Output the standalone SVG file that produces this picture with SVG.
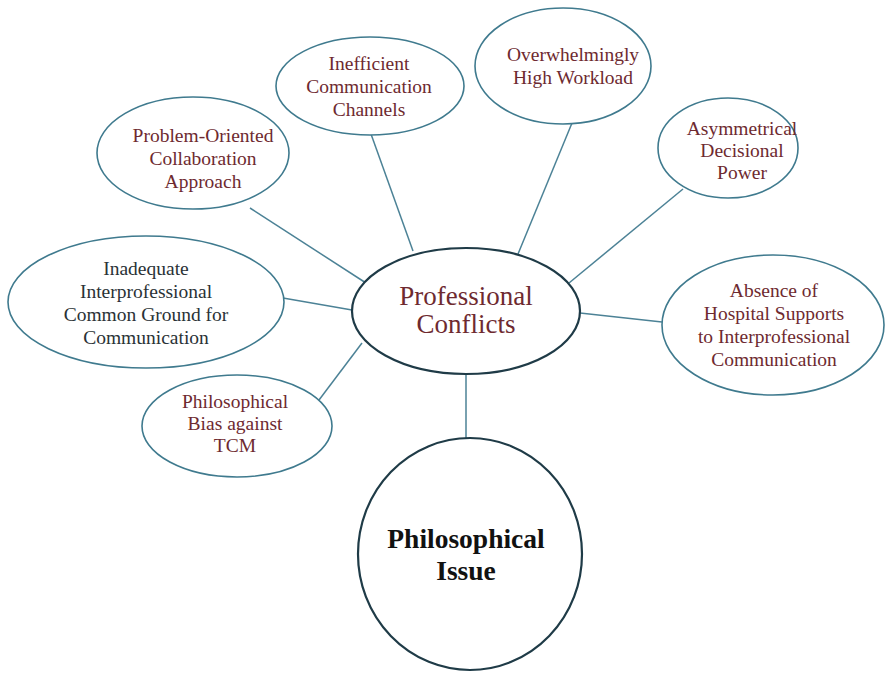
<svg xmlns="http://www.w3.org/2000/svg" width="887" height="675" viewBox="0 0 887 675">
  <style>
    .bg { fill: #ffffff; }
    .node { fill: #ffffff; stroke: #3f7a8e; stroke-width: 1.6; }
    .hub { fill: #ffffff; stroke: #1f3b47; stroke-width: 2.2; }
    .link { stroke: #4c8296; stroke-width: 1.5; fill: none; }
    .lbl { font-family: "Liberation Serif", "Times New Roman", serif; font-size: 19.5px; fill: #6e2a30; text-anchor: middle; }
    .dark { fill: #2a3236; }
    .hubtxt { font-family: "Liberation Serif", "Times New Roman", serif; font-size: 27px; fill: #6e2a30; text-anchor: middle; }
    .issue { font-family: "Liberation Serif", "Times New Roman", serif; font-size: 27.5px; font-weight: bold; fill: #111111; text-anchor: middle; }
  </style>
  <rect class="bg" x="0" y="0" width="887" height="675"/>

  <g id="connectors">
    <line class="link" x1="250" y1="208" x2="366" y2="283"/>
    <line class="link" x1="371" y1="134" x2="413" y2="251"/>
    <line class="link" x1="572" y1="123" x2="518" y2="254"/>
    <line class="link" x1="683" y1="189" x2="569" y2="283"/>
    <line class="link" x1="283" y1="298" x2="352" y2="310"/>
    <line class="link" x1="662" y1="322" x2="580" y2="313"/>
    <line class="link" x1="319" y1="400" x2="362" y2="343"/>
    <line class="link" x1="466" y1="374" x2="466" y2="438"/>
  </g>

  <g id="problem-oriented">
    <ellipse class="node" cx="193" cy="153" rx="96" ry="56"/>
    <text class="lbl" x="203" y="142">Problem-Oriented</text>
    <text class="lbl" x="203" y="165">Collaboration</text>
    <text class="lbl" x="203" y="188">Approach</text>
  </g>

  <g id="inefficient">
    <ellipse class="node" cx="370" cy="86" rx="94" ry="49"/>
    <text class="lbl" x="369" y="70">Inefficient</text>
    <text class="lbl" x="369" y="93">Communication</text>
    <text class="lbl" x="369" y="116">Channels</text>
  </g>

  <g id="workload">
    <ellipse class="node" cx="563" cy="66" rx="88" ry="58"/>
    <text class="lbl" x="573" y="61">Overwhelmingly</text>
    <text class="lbl" x="573" y="84">High Workload</text>
  </g>

  <g id="asymmetrical">
    <ellipse class="node" cx="728" cy="148" rx="70" ry="50"/>
    <text class="lbl" x="742" y="135">Asymmetrical</text>
    <text class="lbl" x="742" y="157">Decisional</text>
    <text class="lbl" x="742" y="179">Power</text>
  </g>

  <g id="inadequate">
    <ellipse class="node" cx="146" cy="302" rx="138" ry="66"/>
    <text class="lbl dark" x="146" y="275">Inadequate</text>
    <text class="lbl dark" x="146" y="298">Interprofessional</text>
    <text class="lbl dark" x="146" y="321">Common Ground for</text>
    <text class="lbl dark" x="146" y="344">Communication</text>
  </g>

  <g id="absence">
    <ellipse class="node" cx="773" cy="325" rx="111" ry="70"/>
    <text class="lbl" x="774" y="297">Absence of</text>
    <text class="lbl" x="774" y="320">Hospital Supports</text>
    <text class="lbl" x="774" y="343">to Interprofessional</text>
    <text class="lbl" x="774" y="366">Communication</text>
  </g>

  <g id="bias">
    <ellipse class="node" cx="237" cy="426" rx="95" ry="51"/>
    <text class="lbl" x="235" y="408">Philosophical</text>
    <text class="lbl" x="235" y="430">Bias against</text>
    <text class="lbl" x="235" y="452">TCM</text>
  </g>

  <g id="professional-conflicts">
    <ellipse class="hub" cx="466" cy="311" rx="114" ry="63"/>
    <text class="hubtxt" x="466" y="305">Professional</text>
    <text class="hubtxt" x="466" y="333">Conflicts</text>
  </g>

  <g id="philosophical-issue">
    <ellipse class="hub" cx="470" cy="554" rx="112" ry="116"/>
    <text class="issue" x="466" y="548">Philosophical</text>
    <text class="issue" x="466" y="580">Issue</text>
  </g>
</svg>
